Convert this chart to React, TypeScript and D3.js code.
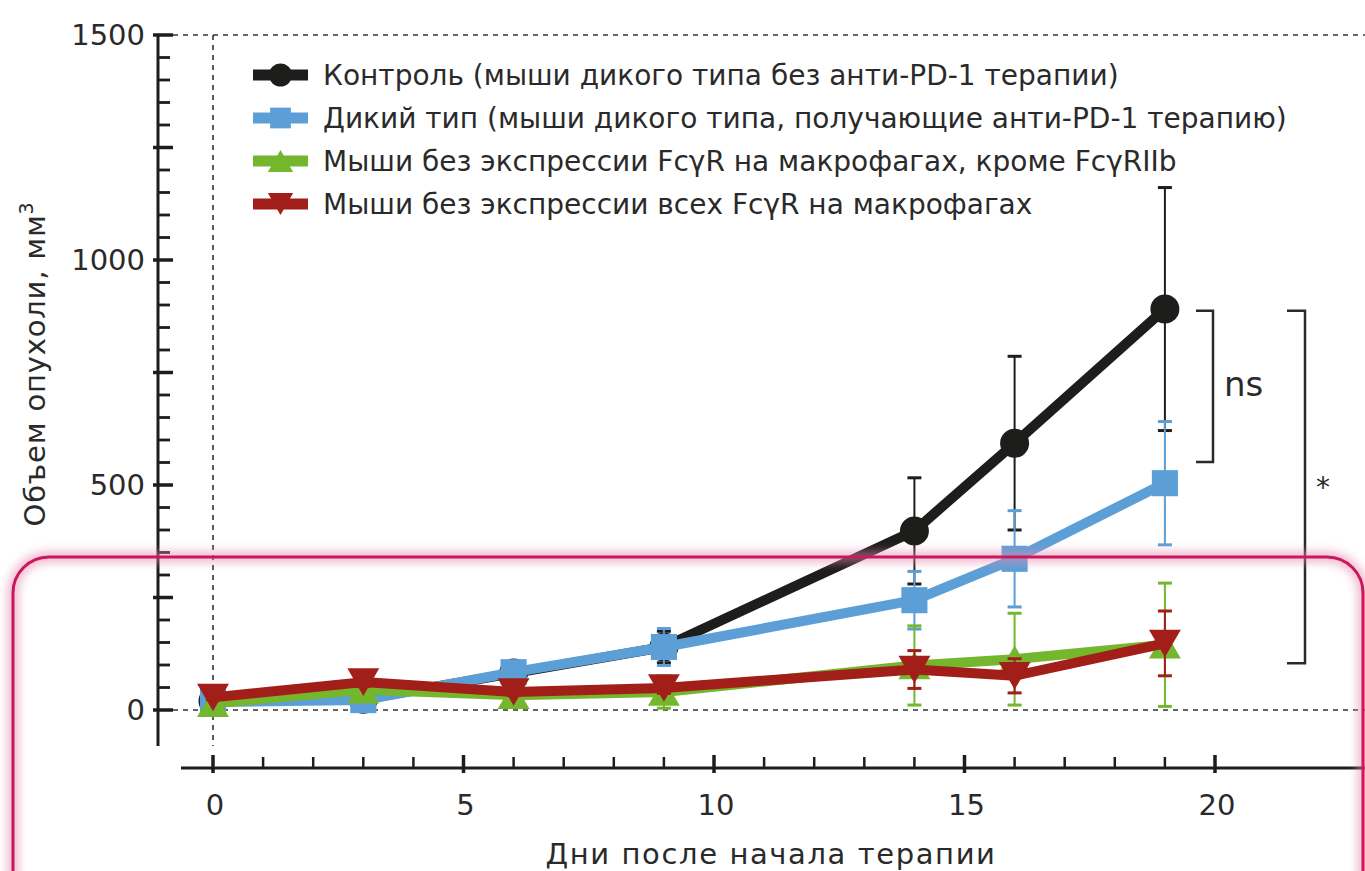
import React from "react";
import * as d3 from "d3";
import { useEffect, useRef } from "react";

const days = [0, 3, 6, 9, 14, 16, 19];

const controlMean = [20, 24, 82, 140, 398, 593, 891];
const controlSem = [5, 8, 15, 35, 118, 193, 270];
const wildMean = [18, 22, 84, 140, 244, 336, 504];
const wildSem = [4, 6, 12, 41, 64, 107, 137];
const noFcrMean = [15, 45, 33, 40, 99, 113, 145];
const noFcrSem = [4, 10, 12, 36, 88, 102, 137];
const noAllMean = [28, 62, 40, 49, 90, 76, 148];
const noAllSem = [5, 10, 8, 12, 42, 38, 72];

const legendLabels = [
  "Контроль (мыши дикого типа без анти-PD-1 терапии)",
  "Дикий тип (мыши дикого типа, получающие анти-PD-1 терапию)",
  "Мыши без экспрессии FcγR на макрофагах, кроме FcγRIIb",
  "Мыши без экспрессии всех FcγR на макрофагах",
];
const seriesColors = ["#1d1d1b", "#5b9fd6", "#74b62c", "#a21f19"];
const seriesShapes = ["circle", "square", "triUp", "triDown"];

const yTickLabels = [0, 500, 1000, 1500];
const xTickLabels = [0, 5, 10, 15, 20];

const FONT = "'DejaVu Sans', sans-serif";

const App = () => {
  const ref = useRef(null);

  useEffect(() => {
    const width = 1365, height = 871;
    d3.select(ref.current).select("svg").remove();

    const svg = d3.select(ref.current)
      .append("svg")
      .attr("width", width)
      .attr("height", height)
      .style("position", "absolute")
      .style("left", 0)
      .style("top", 0)
      .style("font-family", FONT);

    const x = d3.scaleLinear().domain([0, 20]).range([213, 1215]);
    const y = d3.scaleLinear().domain([0, 1500]).range([710, 35]);
    const ink = "#1d1d1b";
    const txt = "#2a2a2a";

    const defs = svg.append("defs");
    const glow = defs.append("filter").attr("id", "glow")
      .attr("x", "-5%").attr("y", "-5%").attr("width", "110%").attr("height", "110%");
    glow.append("feGaussianBlur").attr("stdDeviation", 4);

    // dashed reference lines
    svg.append("line")
      .attr("x1", 173).attr("x2", 1365).attr("y1", y(1500)).attr("y2", y(1500))
      .attr("stroke", "#333").attr("stroke-width", 1.6).attr("stroke-dasharray", "5,5");
    svg.append("line")
      .attr("x1", 173).attr("x2", 1365).attr("y1", y(0)).attr("y2", y(0))
      .attr("stroke", "#333").attr("stroke-width", 1.6).attr("stroke-dasharray", "5,5");
    svg.append("line")
      .attr("x1", x(0)).attr("x2", x(0)).attr("y1", y(1500)).attr("y2", 746)
      .attr("stroke", "#333").attr("stroke-width", 1.6).attr("stroke-dasharray", "5,5");

    // y axis
    const ya = svg.append("g");
    ya.append("line").attr("x1", 158).attr("x2", 158).attr("y1", y(1500) - 1).attr("y2", 746)
      .attr("stroke", ink).attr("stroke-width", 3);
    d3.range(0, 1501, 50).forEach(v => {
      const major = v % 250 === 0;
      ya.append("line")
        .attr("x1", major ? 153 : 158).attr("x2", major ? 173 : 170)
        .attr("y1", y(v)).attr("y2", y(v))
        .attr("stroke", ink).attr("stroke-width", major ? 3.5 : 2.8);
    });
    ya.selectAll("text.yt").data(yTickLabels).enter().append("text")
      .attr("x", 145).attr("y", d => y(d))
      .attr("text-anchor", "end").attr("dominant-baseline", "central")
      .attr("font-size", 29).attr("fill", txt)
      .text(d => d);

    // x axis
    const xa = svg.append("g");
    xa.append("line").attr("x1", 181).attr("x2", 1365).attr("y1", 768).attr("y2", 768)
      .attr("stroke", ink).attr("stroke-width", 3);
    d3.range(0, 21).forEach(v => {
      const major = v % 5 === 0;
      xa.append("line")
        .attr("x1", x(v)).attr("x2", x(v))
        .attr("y1", major ? 755 : 757).attr("y2", major ? 773 : 768)
        .attr("stroke", ink).attr("stroke-width", major ? 3.5 : 2.5);
    });
    xa.selectAll("text.xt").data(xTickLabels).enter().append("text")
      .attr("x", d => x(d) + 2).attr("y", 815)
      .attr("text-anchor", "middle")
      .attr("font-size", 29).attr("fill", txt)
      .text(d => d);

    // axis titles
    svg.append("text")
      .attr("x", 771).attr("y", 864).attr("text-anchor", "middle")
      .attr("font-size", 29).attr("letter-spacing", 1.6).attr("fill", txt)
      .text("Дни после начала терапии");
    const yt = svg.append("text")
      .attr("transform", "translate(45,364) rotate(-90)")
      .attr("text-anchor", "middle")
      .attr("font-size", 29).attr("letter-spacing", 0.8).attr("fill", txt);
    yt.append("tspan").text("Объем опухоли, мм");
    yt.append("tspan").attr("font-size", 19).attr("dy", -12).text("3");

    const symbol = (g, shape, cx, cy, color, s) => {
      if (shape === "circle") {
        g.append("circle").attr("cx", cx).attr("cy", cy).attr("r", s * 0.5).attr("fill", color);
      } else if (shape === "square") {
        g.append("rect").attr("x", cx - s * 0.45).attr("y", cy - s * 0.45)
          .attr("width", s * 0.9).attr("height", s * 0.9).attr("fill", color);
      } else {
        const w = s * 1.1, h = s * 0.95;
        const dir = shape === "triUp" ? 1 : -1;
        const pts = [[cx - w / 2, cy + dir * h / 2], [cx + w / 2, cy + dir * h / 2], [cx, cy - dir * h / 2]];
        g.append("polygon").attr("points", pts.map(p => p.join(",")).join(" ")).attr("fill", color);
      }
    };

    const series = [
      { mean: controlMean, sem: controlSem },
      { mean: wildMean, sem: wildSem },
      { mean: noFcrMean, sem: noFcrSem },
      { mean: noAllMean, sem: noAllSem },
    ];

    const line = d3.line().x(d => x(d[0])).y(d => y(d[1]));

    series.forEach((s, i) => {
      const color = seriesColors[i];
      const g = svg.append("g");
      const pts = days.map((d, j) => [d, s.mean[j]]);
      // error bars
      days.forEach((d, j) => {
        const top = y(s.mean[j] + s.sem[j]), bot = y(s.mean[j] - s.sem[j]);
        g.append("line").attr("x1", x(d)).attr("x2", x(d)).attr("y1", top).attr("y2", bot)
          .attr("stroke", color).attr("stroke-width", 2);
        [top, bot].forEach(yy => {
          g.append("line").attr("x1", x(d) - 7).attr("x2", x(d) + 7).attr("y1", yy).attr("y2", yy)
            .attr("stroke", color).attr("stroke-width", 3);
        });
      });
      g.append("path").datum(pts).attr("d", line)
        .attr("fill", "none").attr("stroke", color).attr("stroke-width", 10)
        .attr("stroke-linejoin", "round");
      pts.forEach(p => symbol(g, seriesShapes[i], x(p[0]), y(p[1]), color, 29));
    });

    // significance brackets
    const br = svg.append("g").attr("fill", "none").attr("stroke", txt).attr("stroke-width", 2.5);
    br.append("path").attr("d", `M1196,${y(887)}H1213V${y(551)}H1196`);
    br.append("path").attr("d", `M1287,${y(887)}H1305V${y(104)}H1287`);
    svg.append("text").attr("x", 1224).attr("y", 396).attr("font-size", 34).attr("fill", txt).text("ns");
    svg.append("text").attr("x", 1316).attr("y", 497).attr("font-size", 28).attr("fill", txt).text("*");

    // legend
    const lg = svg.append("g");
    legendLabels.forEach((lab, i) => {
      const cy = 75 + i * 43;
      lg.append("line").attr("x1", 253).attr("x2", 308).attr("y1", cy).attr("y2", cy)
        .attr("stroke", seriesColors[i]).attr("stroke-width", 11);
      symbol(lg, seriesShapes[i], 280.5, cy, seriesColors[i], 23);
      lg.append("text").attr("x", 323).attr("y", cy).attr("dominant-baseline", "central")
        .attr("font-size", 28).attr("fill", txt).text(lab);
    });

    // highlight frame
    const fr = svg.append("g");
    fr.append("rect").attr("x", 13).attr("y", 557).attr("width", 1350).attr("height", 360)
      .attr("rx", 36).attr("fill", "none").attr("stroke", "#e986b0").attr("stroke-opacity", 0.55)
      .attr("stroke-width", 12).attr("filter", "url(#glow)");
    fr.append("rect").attr("x", 13).attr("y", 557).attr("width", 1350).attr("height", 360)
      .attr("rx", 36).attr("fill", "none").attr("stroke", "#c8195a").attr("stroke-width", 3);
  }, []);

  return <div ref={ref}></div>;
};

export default App;
